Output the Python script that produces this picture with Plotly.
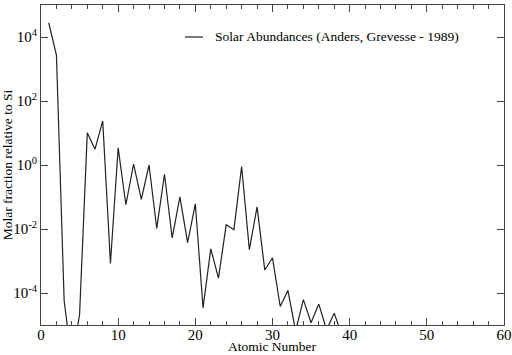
import plotly.graph_objs as go

# Anders & Grevesse (1989), atoms relative to Si = 1
atomic_number = list(range(1, 40))
abundance = [
    2.79e4, 2.72e3, 5.71e-5, 7.3e-7, 2.12e-5, 10.1, 3.13, 23.8, 8.43e-4, 3.44,
    5.74e-2, 1.074, 8.49e-2, 1.0, 1.04e-2, 0.515, 5.24e-3, 0.101, 3.77e-3, 6.11e-2,
    3.42e-5, 2.40e-3, 2.93e-4, 1.35e-2, 9.55e-3, 0.900, 2.25e-3, 4.93e-2, 5.22e-4, 1.26e-3,
    3.78e-5, 1.19e-4, 6.56e-6, 6.21e-5, 1.18e-5, 4.5e-5, 7.09e-6, 2.35e-5, 4.64e-6,
]
y_tickvals = [1e-4, 1e-2, 1, 1e2, 1e4]
y_ticktext = ['10<sup>-4</sup>', '10<sup>-2</sup>', '10<sup>0</sup>', '10<sup>2</sup>', '10<sup>4</sup>']
legend_text = 'Solar Abundances (Anders, Grevesse - 1989)'

font = dict(family='Liberation Serif, Times New Roman, serif', color='black')
line_col = '#222222'

fig = go.Figure()
fig.add_trace(go.Scatter(
    x=atomic_number, y=abundance, mode='lines',
    line=dict(color=line_col, width=1.2),
    name=legend_text, showlegend=False))

axis_common = dict(
    showline=True, linecolor='#444444', linewidth=1.2, mirror='ticks',
    ticks='inside', tickcolor='#444444', showgrid=False, zeroline=False,
    tickfont=dict(size=15, **font), automargin=False,
)

# hand-made legend (short sample line like the original)
fig.add_shape(type='line', xref='paper', yref='paper',
              x0=0.311, x1=0.35, y0=0.9, y1=0.9,
              line=dict(color=line_col, width=1.2))
fig.add_annotation(text=legend_text, xref='paper', yref='paper',
                   x=0.371, y=0.9, xanchor='left', yanchor='middle',
                   showarrow=False, font=dict(size=13.5, **font))

# x axis title as a note
fig.add_annotation(text='Atomic Number', xref='paper', yref='paper',
                   x=0.5, y=-0.066, xanchor='center', yanchor='middle',
                   showarrow=False, font=dict(size=13.5, **font))

fig.update_layout(
    width=512, height=355,
    margin=dict(l=41, r=8, t=5, b=30),
    paper_bgcolor='white', plot_bgcolor='white',
    font=font,
    xaxis=dict(range=[0, 60], dtick=10, ticklen=7, ticklabelstandoff=-4,
               minor=dict(dtick=2, ticks='inside', ticklen=4, tickcolor='#444444'),
               **axis_common),
    yaxis=dict(type='log', range=[-5, 5], tickvals=y_tickvals, ticktext=y_ticktext,
               ticklen=7,
               title=dict(text='Molar fraction relative to Si', font=dict(size=13.5, **font), standoff=4),
               **axis_common),
)

# page body has an 8px margin by default; drop it so the chart sits at the corner
fig.write_html("out.html", config={'displayModeBar': False},
               post_script="document.body.style.margin='0px';")
